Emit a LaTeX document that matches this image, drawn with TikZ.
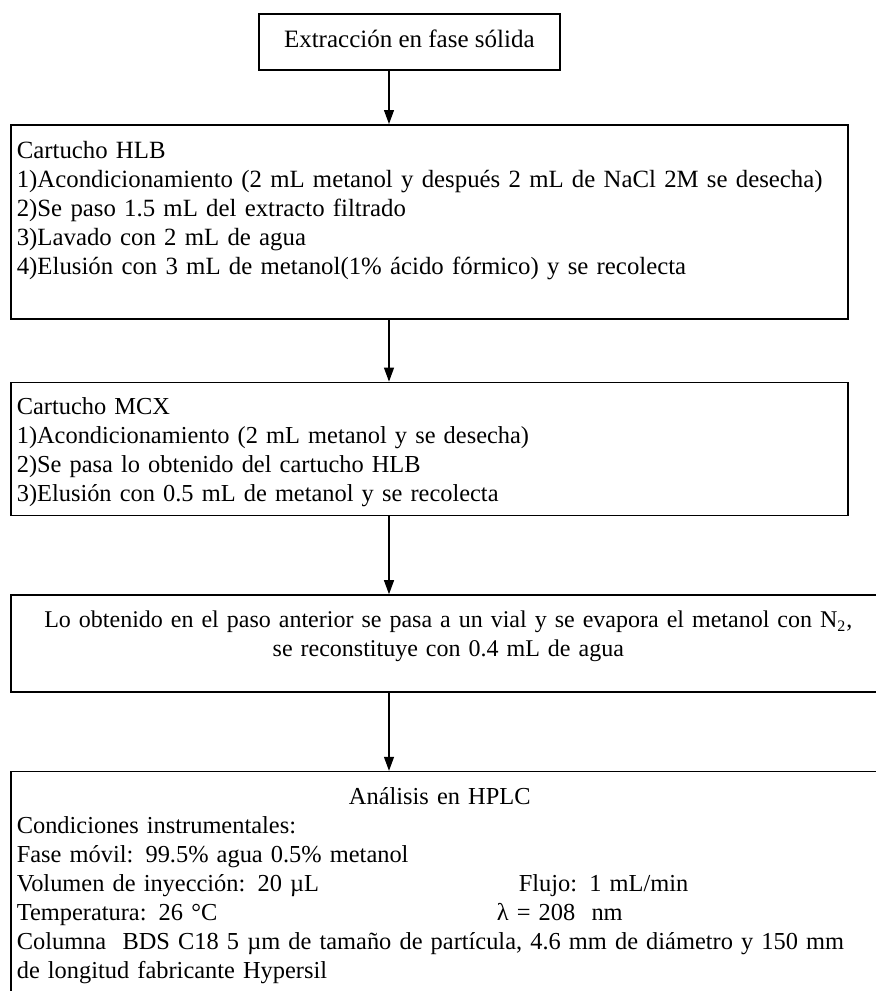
\documentclass[tikz,border=0pt]{standalone}
\usepackage{fontspec}
\setmainfont{Liberation Serif}
\usetikzlibrary{positioning,arrows.meta}

\begin{document}
\begin{tikzpicture}[x=0.5pt, y=-0.5pt, font=\fontsize{12.2}{14.5}\selectfont,
  box/.style={draw, line width=0.8pt, inner xsep=3pt, inner ysep=0pt},
  wide/.style={box, minimum width=418.5pt, text width=412.5pt, align=left},
  full/.style={box, minimum width=437.5pt, text width=431.5pt},
  arr/.style={-{Triangle[width=5pt,length=7pt]}, line width=0.6pt}]
\useasboundingbox (0,0) rectangle (875,991);
\coordinate (axis) at (389,0);
\node[box, anchor=north west, minimum width=150.5pt, minimum height=28pt, align=center,
  font=\fontsize{12.5}{14.5}\selectfont] (spe) at (258,13) {\strut Extracción en fase sólida};
\node[wide, anchor=north west, minimum height=97pt, font=\fontsize{12.4}{14.5}\selectfont] (hlb) at (10,124) {\rule{0pt}{13.65pt}Cartucho HLB\\1)Acondicionamiento (2 mL metanol y después 2 mL de NaCl 2M se desecha)\\2)Se paso 1.5 mL del extracto filtrado\\3)Lavado con 2 mL de agua\\4)Elusión con 3 mL de metanol(1\% ácido fórmico) y se recolecta\\ \strut};
\node[wide, below=31pt of hlb.south west, anchor=north west, minimum height=66.5pt] (mcx) {\rule{0pt}{13.15pt}Cartucho MCX\\1)Acondicionamiento (2 mL metanol y se desecha)\\2)Se pasa lo obtenido del cartucho HLB\\3)Elusión con 0.5 mL de metanol y se recolecta\strut};
\node[full, below=39pt of mcx.south west, anchor=north west, minimum height=48.5pt, align=center,
  font=\fontsize{12}{14.5}\selectfont] (vial) {\strut Lo obtenido en el paso anterior se pasa a un vial y se evapora el metanol con N\textsubscript{2},\\se reconstituye con 0.4 mL de agua\rule[-11.35pt]{0pt}{11.35pt}};
\node[full, below=39pt of vial.south west, anchor=north west, inner ysep=6.35pt, align=left] (hplc) {\strut\makebox[423pt]{Análisis en HPLC}\\Condiciones instrumentales:\\Fase móvil: 99.5\% agua 0.5\% metanol\\\makebox[251pt][l]{Volumen de inyección: 20 µL}Flujo: 1 mL/min\\\makebox[240pt][l]{Temperatura: 26 °C}λ = 208\ \ nm\\Columna\ \ BDS C18 5 µm de tamaño de partícula, 4.6 mm de diámetro y 150 mm\\de longitud fabricante Hypersil\\ \strut};
\draw[arr] (spe.south -| axis) -- (hlb.north -| axis); \draw[arr] (hlb.south -| axis) -- (mcx.north -| axis);
\draw[arr] (mcx.south -| axis) -- (vial.north -| axis); \draw[arr] (vial.south -| axis) -- (hplc.north -| axis);
\end{tikzpicture}
\end{document}
